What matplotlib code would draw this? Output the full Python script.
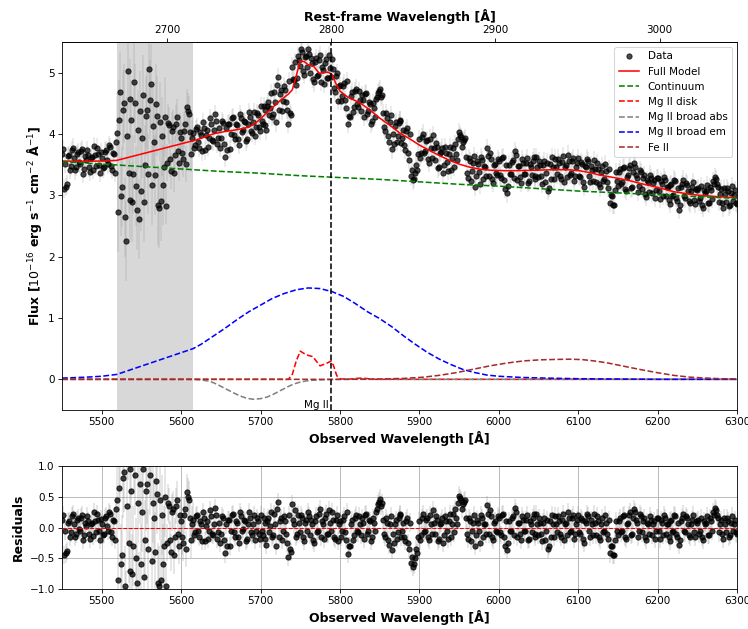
import numpy as np
import matplotlib.pyplot as plt

# redshift of the source and Mg II rest wavelength
z = 1.0675
mgii_rest = 2800.0

# observed wavelength grid of the spectrum [A], sampled every 1.25 A
wave_start, wave_stop, wave_step = 5450.0, 6300.0, 1.25

# fit residuals (data - full model) at 5450, 5452.5, ... 6300
resid_even = [
    0.12, -0.45, -0.42, 0.08, -0.15, 0.18, 0.05, -0.10, 0.15, -0.05, 0.20, -0.12, 0.02, 0.10, -0.18, 0.07, 0.25, -0.08, 0.12, -0.20,
    0.05, -0.10, 0.18, -0.06, 0.22, -0.15, 0.10, 0.30, -0.85, 1.10, -0.45, 0.90, -1.35, 1.42, -0.70, 0.60, -0.30, 0.85, -0.90, -1.05,
    -0.60, 0.95, -0.20, 0.70, 1.35, 1.10, 0.40, -0.40, 0.55, -0.95, -0.85, -0.60, 0.50, -0.25, 0.35, -0.40, 0.30, -0.15, 0.45, -0.30,
    0.10, -0.25, 0.30, 0.57, 0.45, -0.20, 0.12, -0.08, 0.20, -0.15, 0.05, 0.25, -0.22, 0.10, -0.05, 0.18, -0.12, 0.32, -0.18, 0.08,
    -0.10, 0.15, -0.42, -0.30, 0.12, -0.05, 0.22, -0.15, 0.08, -0.25, 0.18, -0.02, 0.10, -0.18, 0.25, -0.08, 0.05, -0.20, 0.15, -0.10,
    0.20, -0.12, 0.08, -0.28, 0.15, 0.02, -0.15, 0.22, -0.30, 0.41, 0.10, -0.20, 0.18, -0.10, -0.48, -0.35, 0.38, 0.05, -0.15, 0.20,
    -0.08, 0.15, -0.22, 0.12, 0.25, -0.12, 0.05, -0.25, 0.18, -0.05, 0.30, 0.10, -0.18, 0.22, -0.10, 0.08, 0.25, -0.15, 0.12, -0.22,
    0.10, -0.05, 0.18, -0.20, -0.43, -0.30, 0.12, -0.12, 0.20, -0.08, 0.05, 0.15, -0.18, 0.22, -0.05, 0.10, -0.15, 0.08, 0.25, 0.38,
    0.47, 0.40, -0.10, 0.15, -0.20, 0.05, -0.37, -0.25, 0.12, -0.08, 0.20, -0.15, 0.08, -0.22, 0.15, -0.35, -0.58, -0.64, -0.50, -0.42,
    0.10, -0.12, 0.22, -0.05, 0.15, -0.20, 0.05, 0.28, -0.10, 0.12, -0.18, 0.08, -0.25, 0.18, -0.05, 0.10, -0.15, 0.22, 0.30, 0.05,
    0.52, 0.45, 0.38, 0.45, -0.10, 0.15, -0.22, 0.08, -0.30, 0.12, -0.05, 0.20, -0.15, 0.05, 0.36, -0.10, 0.18, -0.20, 0.10, -0.08,
    0.15, -0.12, 0.22, -0.30, -0.37, 0.10, -0.05, 0.18, 0.32, -0.15, 0.08, -0.20, 0.12, -0.05, 0.20, -0.18, 0.05, 0.15, -0.10, 0.22,
    -0.12, 0.08, -0.22, 0.15, -0.05, -0.35, 0.10, 0.20, -0.15, 0.05, 0.18, -0.10, 0.12, -0.20, 0.08, 0.25, -0.08, 0.15, -0.18, 0.05,
    0.20, -0.10, 0.12, -0.25, 0.08, 0.18, -0.15, 0.05, 0.22, -0.12, 0.10, -0.20, 0.15, -0.05, 0.08, -0.18, -0.42, -0.30, -0.45, 0.10,
    -0.12, 0.15, -0.05, 0.20, -0.18, 0.08, 0.25, -0.10, 0.30, 0.12, -0.15, 0.22, -0.08, 0.15, -0.20, 0.05, 0.18, -0.12, 0.10, -0.05,
    0.15, -0.18, 0.08, 0.20, -0.10, 0.05, -0.22, 0.12, -0.05, 0.18, -0.15, -0.28, 0.10, 0.22, -0.08, 0.15, -0.12, 0.05, 0.20, -0.15,
    0.08, -0.10, 0.15, -0.20, 0.05, 0.18, -0.12, 0.10, 0.25, 0.31, 0.20, -0.08, 0.12, -0.18, 0.05, 0.15, -0.15, 0.08, -0.05, 0.12,
    -0.10,
]

# fit residuals at the intermediate pixels 5451.25, 5453.75, ... 6298.75
resid_odd = [
    0.20, -0.05, -0.38, 0.10, -0.08, 0.22, -0.15, 0.12, -0.02, 0.16, -0.20, 0.08, 0.18, -0.10, 0.05, -0.14, 0.10, 0.22, -0.06, 0.14,
    -0.12, 0.15, 0.02, 0.25, -0.08, 0.12, -0.20, 0.45, 0.65, -0.60, 0.80, -0.95, 0.35, -0.25, 0.95, -0.75, 1.20, -0.50, 0.40, 0.70,
    0.25, -0.80, 0.60, -0.35, 0.85, -0.55, 0.15, 0.75, -0.90, 0.45, 0.20, -0.30, -0.95, 0.40, -0.20, 0.25, -0.45, 0.35, -0.10, 0.20,
    -0.15, 0.20, -0.35, 0.50, 0.15, 0.05, -0.12, 0.18, -0.05, 0.10, -0.22, 0.15, 0.02, -0.18, 0.28, -0.10, 0.06, 0.20, -0.08, -0.25,
    0.18, -0.20, 0.05, 0.12, -0.30, 0.20, -0.08, 0.10, -0.15, 0.25, -0.05, 0.12, -0.22, 0.05, 0.15, -0.12, 0.20, -0.06, 0.10, -0.18,
    -0.05, 0.16, -0.18, 0.10, -0.08, 0.25, -0.12, 0.05, 0.30, -0.15, 0.15, -0.05, 0.10, -0.25, 0.20, -0.40, 0.12, 0.28, -0.10, 0.08,
    0.20, -0.15, 0.08, -0.05, 0.18, 0.12, -0.20, 0.10, -0.08, 0.22, -0.15, 0.05, 0.15, -0.10, 0.28, -0.05, 0.12, -0.18, 0.20, 0.05,
    -0.15, 0.12, -0.08, 0.25, -0.30, 0.05, -0.20, 0.15, -0.05, 0.18, -0.12, 0.08, 0.20, -0.10, 0.12, -0.22, 0.15, -0.05, 0.30, 0.42,
    0.35, 0.12, -0.15, 0.08, -0.28, 0.18, -0.10, 0.05, -0.18, 0.15, 0.22, -0.05, -0.15, 0.10, -0.25, 0.08, -0.48, -0.60, -0.35, -0.15,
    -0.20, 0.15, -0.08, 0.12, -0.15, 0.20, -0.10, 0.08, 0.18, -0.22, 0.05, 0.15, -0.12, 0.10, -0.18, 0.22, 0.05, -0.08, 0.15, 0.40,
    0.48, 0.30, 0.42, 0.15, -0.18, 0.10, -0.05, 0.20, -0.12, 0.08, -0.25, 0.15, 0.05, -0.10, 0.22, 0.28, -0.15, 0.08, -0.05, 0.18,
    -0.08, 0.20, -0.15, 0.10, -0.25, -0.05, 0.15, -0.12, 0.25, 0.08, -0.10, 0.18, -0.05, 0.12, -0.20, 0.10, -0.08, 0.22, -0.15, 0.05,
    0.15, -0.10, 0.08, -0.20, 0.12, -0.30, -0.15, 0.05, 0.18, -0.08, 0.10, -0.15, 0.22, 0.05, -0.12, 0.15, -0.05, 0.20, -0.10, 0.12,
    -0.08, 0.15, -0.18, 0.10, 0.22, -0.05, 0.12, -0.12, 0.08, 0.18, -0.15, 0.05, -0.08, 0.20, -0.10, 0.12, -0.30, -0.45, -0.20, -0.05,
    0.10, -0.08, 0.18, -0.15, 0.05, 0.20, -0.12, 0.15, 0.25, 0.08, -0.05, 0.18, 0.10, -0.15, 0.08, -0.10, 0.12, 0.05, -0.18, 0.15,
    -0.05, 0.12, -0.12, 0.15, 0.05, -0.15, 0.10, -0.08, 0.20, -0.10, 0.08, -0.20, 0.15, -0.05, 0.18, 0.05, -0.15, 0.12, -0.08, 0.10,
    0.12, -0.05, -0.15, 0.10, 0.08, -0.12, 0.15, -0.05, 0.20, 0.28, 0.15, 0.05, -0.10, 0.15, -0.08, 0.10, -0.12, 0.18, 0.05, -0.08,
]

# flux uncertainty, stepwise over wavelength
err_edges = [5518, 5580, 5615]
err_levels = [0.15, 0.65, 0.30, 0.15]

# fitted model components [1e-16 erg/s/cm2/A]
model_wave = [5450, 5480, 5500, 5519, 5615, 5625, 5640, 5655, 5670, 5685, 5695, 5705, 5715, 5725, 5735,
              5740, 5745, 5750, 5755, 5760, 5767, 5774, 5780, 5785, 5790, 5795, 5800, 5810, 5825, 5838,
              5850, 5863, 5875, 5888, 5900, 5913, 5925, 5938, 5950, 5963, 5975, 5989, 6000, 6014, 6030,
              6048, 6073, 6090, 6102, 6115, 6127, 6145, 6161, 6186, 6200, 6220, 6240, 6253, 6275, 6300]
model_flux = [3.56, 3.555, 3.56, 3.57, 3.89, 3.93, 4.00, 4.04, 4.07, 4.11, 4.19, 4.31, 4.43, 4.55, 4.65,
              4.72, 4.95, 5.19, 5.18, 5.13, 5.10, 4.99, 5.00, 5.01, 4.97, 4.82, 4.70, 4.60, 4.51, 4.39,
              4.26, 4.14, 4.02, 3.92, 3.82, 3.73, 3.65, 3.57, 3.51, 3.46, 3.43, 3.41, 3.405, 3.40, 3.405,
              3.41, 3.42, 3.415, 3.40, 3.37, 3.33, 3.29, 3.25, 3.17, 3.13, 3.06, 3.02, 3.00, 2.98, 2.96]

cont_wave = [5450, 5500, 5550, 5600, 5650, 5700, 5750, 5800, 5850, 5900, 5950, 6000, 6050, 6100, 6150, 6200, 6250, 6300]
cont_flux = [3.55, 3.51, 3.47, 3.43, 3.39, 3.36, 3.32, 3.29, 3.26, 3.22, 3.18, 3.15, 3.11, 3.07, 3.04, 3.01, 2.98, 2.95]

disk_wave = [5450, 5735, 5740, 5745, 5750, 5755, 5760, 5766, 5770, 5775, 5779, 5783, 5789, 5792, 5796,
             5800, 5810, 5820, 5828, 5836, 5845, 6300]
disk_flux = [0.0, 0.0, 0.08, 0.30, 0.46, 0.42, 0.39, 0.37, 0.30, 0.22, 0.24, 0.26, 0.30, 0.22, 0.06,
             0.01, 0.0, 0.015, 0.02, 0.01, 0.0, 0.0]

abs_wave = [5450, 5519, 5615, 5625, 5636, 5645, 5657, 5666, 5674, 5683, 5691, 5700, 5708, 5716, 5724,
            5733, 5741, 5750, 5758, 5766, 5780, 5792, 5810, 6300]
abs_flux = [0.0, 0.0, 0.0, -0.01, -0.03, -0.08, -0.16, -0.22, -0.27, -0.31, -0.325, -0.315, -0.29, -0.245, -0.19,
            -0.13, -0.08, -0.045, -0.025, -0.015, -0.006, -0.002, 0.0, 0.0]

em_wave = [5450, 5480, 5500, 5519, 5615, 5625, 5640, 5655, 5670, 5685, 5700, 5715, 5730, 5745, 5760,
           5775, 5790, 5805, 5820, 5835, 5850, 5865, 5880, 5895, 5910, 5925, 5940, 5955, 5970, 5985,
           6000, 6030, 6060, 6100, 6150, 6200, 6300]
em_flux = [0.02, 0.035, 0.05, 0.08, 0.50, 0.57, 0.70, 0.83, 0.97, 1.10, 1.21, 1.32, 1.40, 1.46, 1.49,
           1.48, 1.43, 1.35, 1.23, 1.10, 0.99, 0.86, 0.71, 0.57, 0.44, 0.33, 0.24, 0.16, 0.11, 0.07,
           0.05, 0.03, 0.02, 0.01, 0.005, 0.0, 0.0]

feii_wave = [5450, 5800, 5850, 5880, 5905, 5925, 5947, 5968, 5989, 6010, 6031, 6052, 6073, 6090, 6105,
             6120, 6136, 6157, 6178, 6199, 6220, 6241, 6262, 6280, 6300]
feii_flux = [0.0, 0.0, 0.005, 0.015, 0.035, 0.065, 0.11, 0.165, 0.22, 0.265, 0.30, 0.318, 0.325, 0.328, 0.322,
             0.30, 0.27, 0.215, 0.16, 0.11, 0.065, 0.035, 0.02, 0.01, 0.005]

# masked absorption region
mask_lo, mask_hi = 5519, 5615

rest_ticks = [2700, 2800, 2900, 3000]

#%% derived arrays
wave = np.arange(wave_start, wave_stop + wave_step / 2, wave_step)
resid = np.empty(wave.size)
resid[0::2] = resid_even
resid[1::2] = resid_odd
err = np.array(err_levels)[np.searchsorted(err_edges, wave)]
flux = np.interp(wave, model_wave, model_flux) + resid
mgii_obs = mgii_rest * (1 + z)

#%% figure
dpi = 75
fig = plt.figure(figsize=(748 / dpi, 629 / dpi), dpi=dpi)
ax = fig.add_axes([62 / 748, 219 / 629, 675 / 748, 368 / 629])
axr = fig.add_axes([62 / 748, 40 / 629, 675 / 748, 123 / 629])

# spectrum + model
ax.axvspan(mask_lo, mask_hi, color='grey', alpha=0.3, lw=0)
ax.errorbar(wave, flux, yerr=err, fmt='none', ecolor='grey', alpha=0.2, elinewidth=1.5)
ax.plot(wave, flux, 'o', color='k', alpha=0.7, ms=5, label='Data')
ax.plot(model_wave, model_flux, '-', color='red', lw=1.5, label='Full Model')
ax.plot(cont_wave, cont_flux, '--', color='green', lw=1.5, label='Continuum')
ax.plot(disk_wave, disk_flux, '--', color='red', lw=1.5, label='Mg II disk')
ax.plot(abs_wave, abs_flux, '--', color='grey', lw=1.5, label='Mg II broad abs')
ax.plot(em_wave, em_flux, '--', color='blue', lw=1.5, label='Mg II broad em')
ax.plot(feii_wave, feii_flux, '--', color='brown', lw=1.5, label='Fe II')
ax.axvline(mgii_obs, color='k', ls='--', lw=1.5)
ax.text(mgii_obs - 3, -0.42, 'Mg II', ha='right', va='center', fontsize=10)

ax.set_xlim(5450, 6300)
ax.set_ylim(-0.5, 5.5)
ax.set_xlabel('Observed Wavelength [Å]', fontsize=12, fontweight='bold')
ax.set_ylabel(r'Flux [$10^{-16}$ erg s$^{-1}$ cm$^{-2}$ Å$^{-1}$]', fontsize=12, fontweight='bold')
ax.legend(loc='upper right')

secax = ax.secondary_xaxis('top', functions=(lambda x: x / (1 + z), lambda x: x * (1 + z)))
secax.set_xticks(rest_ticks)
secax.set_xlabel('Rest-frame Wavelength [Å]', fontsize=12, fontweight='bold')

# residuals
axr.errorbar(wave, resid, yerr=err, fmt='none', ecolor='grey', alpha=0.25, elinewidth=1.5)
axr.plot(wave, resid, 'o', color='k', alpha=0.75, ms=5)
axr.axhline(0, color='red', ls='--', lw=1, zorder=3)
axr.grid(True)
axr.set_xlim(5450, 6300)
axr.set_ylim(-1, 1)
axr.set_xlabel('Observed Wavelength [Å]', fontsize=12, fontweight='bold')
axr.set_ylabel('Residuals', fontsize=12, fontweight='bold')

fig.savefig('out.png', dpi=dpi)
